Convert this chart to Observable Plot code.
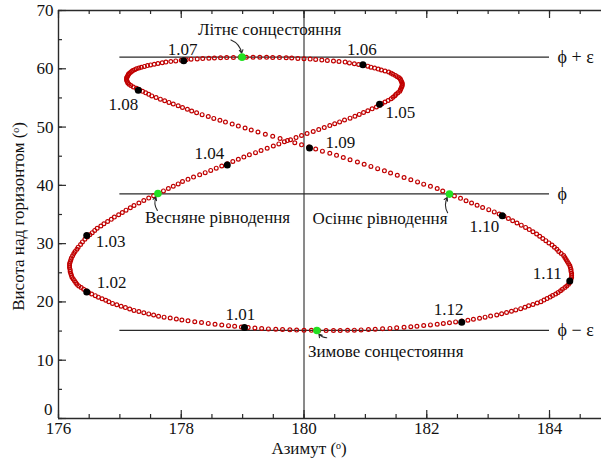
<!DOCTYPE html>
<html lang="uk">
<head>
<meta charset="utf-8">
<script src="https://cdn.jsdelivr.net/npm/d3@7"></script>
<script src="https://cdn.jsdelivr.net/npm/@observablehq/plot@0.6"></script>
<style>
html,body{margin:0;padding:0;background:#fff;}
#chart svg{display:block;}
#chart svg text{font-family:"Liberation Serif","DejaVu Serif",serif !important;}
</style>
</head>
<body>
<div id="chart"></div>
<script>
// Daily noon positions of the Sun, one inner list per month (Jan..Dec)
const azimuth = [
  [179.20,179.09,178.98,178.87,178.77,178.66,178.55,178.44,178.33,178.22,178.11,178.01,177.92,177.82,177.72,177.63,177.55,177.47,177.39,177.31,177.23,177.16,177.09,177.02,176.95,176.88,176.82,176.77,176.71,176.65,176.60],
  [176.54,176.49,176.45,176.41,176.37,176.33,176.30,176.28,176.26,176.24,176.22,176.21,176.20,176.19,176.19,176.18,176.18,176.18,176.19,176.20,176.21,176.23,176.25,176.27,176.30,176.32,176.36,176.39],
  [176.43,176.47,176.51,176.55,176.59,176.63,176.69,176.74,176.80,176.86,176.91,176.98,177.04,177.10,177.17,177.23,177.31,177.39,177.47,177.55,177.63,177.71,177.79,177.87,177.95,178.02,178.11,178.20,178.30,178.39,178.48],
  [178.57,178.66,178.75,178.84,178.93,179.02,179.11,179.21,179.30,179.40,179.50,179.59,179.68,179.78,179.87,179.96,180.05,180.15,180.24,180.33,180.42,180.50,180.58,180.66,180.75,180.83,180.90,180.97,181.04,181.11],
  [181.18,181.23,181.27,181.32,181.37,181.42,181.45,181.48,181.50,181.53,181.56,181.57,181.58,181.59,181.60,181.60,181.60,181.59,181.58,181.57,181.55,181.52,181.49,181.45,181.42,181.38,181.32,181.26,181.21,181.15,181.09],
  [181.04,180.96,180.89,180.82,180.74,180.67,180.57,180.48,180.38,180.29,180.19,180.10,180.00,179.90,179.80,179.71,179.60,179.49,179.39,179.28,179.17,179.06,178.96,178.85,178.74,178.64,178.54,178.45,178.35,178.26],
  [178.16,178.08,178.00,177.91,177.83,177.75,177.69,177.62,177.56,177.50,177.45,177.40,177.35,177.31,177.27,177.24,177.21,177.19,177.17,177.15,177.14,177.13,177.12,177.11,177.11,177.11,177.12,177.13,177.15,177.18,177.22],
  [177.27,177.32,177.37,177.42,177.47,177.52,177.59,177.66,177.73,177.80,177.87,177.95,178.02,178.10,178.17,178.25,178.34,178.44,178.53,178.63,178.72,178.83,178.93,179.04,179.14,179.25,179.37,179.49,179.61,179.73,179.85],
  [179.96,180.08,180.19,180.30,180.42,180.53,180.64,180.75,180.87,180.98,181.09,181.20,181.31,181.41,181.52,181.63,181.74,181.85,181.95,182.06,182.17,182.26,182.36,182.45,182.55,182.64,182.73,182.82,182.91,183.01],
  [183.10,183.18,183.26,183.33,183.40,183.47,183.54,183.61,183.67,183.73,183.79,183.84,183.89,183.94,183.99,184.04,184.08,184.12,184.15,184.19,184.23,184.25,184.27,184.29,184.31,184.33,184.34,184.35,184.35,184.36,184.36],
  [184.36,184.35,184.34,184.33,184.31,184.28,184.25,184.21,184.18,184.14,184.10,184.05,184.01,183.96,183.91,183.86,183.80,183.73,183.66,183.60,183.53,183.45,183.38,183.30,183.22,183.14,183.04,182.95,182.86,182.76],
  [182.67,182.57,182.47,182.37,182.27,182.17,182.06,181.95,181.84,181.74,181.63,181.51,181.40,181.28,181.16,181.05,180.93,180.82,180.71,180.59,180.48,180.36,180.24,180.12,180.00,179.88,179.77,179.65,179.54,179.42,179.31]
];
const altitude = [
  [15.52,15.61,15.71,15.82,15.93,16.05,16.18,16.32,16.46,16.60,16.75,16.91,17.07,17.23,17.39,17.55,17.75,17.95,18.15,18.35,18.55,18.79,19.03,19.27,19.51,19.75,20.02,20.28,20.55,20.82,21.08],
  [21.35,21.63,21.91,22.19,22.47,22.75,23.05,23.35,23.65,23.95,24.25,24.57,24.89,25.21,25.53,25.85,26.19,26.53,26.87,27.21,27.55,27.92,28.29,28.66,29.03,29.40,29.85,30.30],
  [30.75,31.13,31.51,31.89,32.27,32.65,33.03,33.41,33.79,34.17,34.55,34.95,35.35,35.75,36.15,36.55,36.97,37.39,37.81,38.23,38.65,39.05,39.45,39.85,40.25,40.65,41.03,41.42,41.80,42.18,42.57],
  [42.95,43.33,43.71,44.09,44.47,44.85,45.23,45.61,45.99,46.37,46.75,47.11,47.47,47.83,48.19,48.55,48.89,49.23,49.57,49.91,50.25,50.57,50.89,51.21,51.53,51.85,52.17,52.49,52.81,53.13],
  [53.45,53.73,54.01,54.29,54.57,54.85,55.11,55.37,55.63,55.89,56.15,56.39,56.63,56.87,57.11,57.35,57.57,57.79,58.01,58.23,58.45,58.65,58.85,59.05,59.25,59.45,59.62,59.78,59.95,60.12,60.28],
  [60.45,60.59,60.73,60.87,61.01,61.15,61.24,61.33,61.42,61.51,61.60,61.66,61.72,61.78,61.84,61.90,61.92,61.94,61.96,61.98,61.99,61.98,61.96,61.94,61.92,61.90,61.85,61.80,61.75,61.70],
  [61.65,61.55,61.45,61.35,61.25,61.15,61.03,60.91,60.79,60.67,60.55,60.41,60.27,60.13,59.99,59.85,59.69,59.53,59.37,59.21,59.05,58.85,58.65,58.45,58.25,58.05,57.82,57.58,57.35,57.12,56.88],
  [56.65,56.39,56.13,55.87,55.61,55.35,55.07,54.79,54.51,54.23,53.95,53.65,53.35,53.05,52.75,52.45,52.13,51.81,51.49,51.17,50.85,50.51,50.17,49.83,49.49,49.15,48.78,48.42,48.05,47.68,47.32],
  [46.95,46.59,46.23,45.87,45.51,45.15,44.77,44.39,44.01,43.63,43.25,42.87,42.49,42.11,41.73,41.35,40.97,40.59,40.21,39.83,39.45,39.03,38.61,38.19,37.77,37.35,36.97,36.59,36.21,35.83],
  [35.45,35.07,34.69,34.31,33.93,33.55,33.17,32.79,32.41,32.03,31.65,31.27,30.89,30.51,30.13,29.75,29.39,29.03,28.67,28.31,27.95,27.61,27.27,26.93,26.59,26.25,25.92,25.58,25.25,24.92,24.58],
  [24.25,23.95,23.65,23.35,23.05,22.75,22.47,22.19,21.91,21.63,21.35,21.09,20.83,20.57,20.31,20.05,19.81,19.57,19.33,19.09,18.85,18.63,18.41,18.19,17.97,17.75,17.57,17.39,17.21,17.03],
  [16.85,16.71,16.57,16.44,16.31,16.18,16.06,15.95,15.84,15.74,15.65,15.55,15.46,15.38,15.31,15.25,15.20,15.16,15.13,15.11,15.10,15.10,15.11,15.12,15.14,15.17,15.21,15.26,15.31,15.37,15.44]
];

// First day of each month (black dots)
const monthLabels = ["1.01","1.02","1.03","1.04","1.05","1.06","1.07","1.08","1.09","1.10","1.11","1.12"];
const monthAz  = [179.03,176.46,176.46,178.75,181.23,180.96,178.04,177.30,180.09,183.23,184.33,182.57];
const monthAlt = [15.6,21.7,31.4,43.5,53.9,60.7,61.4,56.3,46.4,34.8,23.6,16.5];

// Equinoxes and solstices (green dots)
const eventNames = ["Весняне рівнодення","Літнє сонцестояння","Осіннє рівнодення","Зимове сонцестояння"];
const eventAz  = [177.62,178.99,182.37,180.21];
const eventAlt = [38.6,62.0,38.5,15.1];
const arrowFromAz  = [177.61,178.81,182.34,180.37];
const arrowFromAlt = [35.7,64.95,35.3,13.85];

// Reference lines
const phi = 38.55, eps = 23.44;
const refNames  = ["ϕ + ε","ϕ","ϕ − ε"];
const refValues = [phi + eps, phi, phi - eps];

// Axes
const xTicks = [176,178,180,182,184];
const yTicks = [0,10,20,30,40,50,60,70];
const xTitle = "Азимут (ᵒ)";
const yTitle = "Висота над горизонтом (ᵒ)";

// ---------- layout / styles ----------
const FONT = "Liberation Serif";
const INK = "#2a2a2a";
const monthLayout = [
  {dx:-4, dy:-13, a:"middle"}, {dx:10, dy:-9, a:"start"}, {dx:9, dy:6, a:"start"},
  {dx:-3, dy:-11, a:"end"}, {dx:6, dy:8, a:"start"}, {dx:-1, dy:-15, a:"middle"},
  {dx:-1, dy:-11, a:"middle"}, {dx:0, dy:14, a:"end"}, {dx:16, dy:-6, a:"start"},
  {dx:-3, dy:11, a:"end"}, {dx:-8, dy:-7, a:"end"}, {dx:-13, dy:-13, a:"middle"}
];
const eventLayout = [
  {dx:-13, dy:24, a:"start"}, {dx:-44, dy:-28, a:"start"},
  {dx:-2, dy:24, a:"end"}, {dx:-9, dy:21, a:"start"}
];

const days = azimuth.flatMap((m, mi) => m.map((a, di) => ({az: a, alt: altitude[mi][di]})));
const months = monthLabels.map((t, i) => ({t, az: monthAz[i], alt: monthAlt[i]}));
const events = eventNames.map((t, i) => ({t, az: eventAz[i], alt: eventAlt[i], x1: arrowFromAz[i], y1: arrowFromAlt[i]}));
const refs = refNames.map((t, i) => ({t, v: refValues[i]}));

const xMinor = d3.range(176, 184.6, 0.5);
const yMinor = d3.range(0, 70.1, 5);
const T = {fontFamily: FONT, fill: "#111"};

const chart = Plot.plot({
  width: 601,
  height: 462,
  marginLeft: 58,
  marginRight: 0,
  marginTop: 10,
  marginBottom: 44,
  x: {domain: [176, 184.847]},
  y: {domain: [0, 70]},
  style: {fontFamily: FONT, fontSize: "16px", color: INK, background: "white", overflow: "visible"},
  marks: [
    Plot.ruleX([180], {stroke: INK, strokeWidth: 1.1}),
    Plot.ruleY(refs, {y: "v", x1: 177, x2: 184, stroke: INK, strokeWidth: 1.3}),
    Plot.dot(days, {x: "az", y: "alt", r: 1.9, stroke: "#c00000", strokeWidth: 1.2, fill: "none"}),
    Plot.arrow(events, {x1: "x1", y1: "y1", x2: "az", y2: "alt", bend: 35, headLength: 5, insetEnd: 4, stroke: INK, strokeWidth: 1.1}),
    Plot.dot(events, {x: "az", y: "alt", r: 3.8, fill: "#22e022"}),
    Plot.dot(months, {x: "az", y: "alt", r: 3.5, fill: "#000"}),
    ...months.map((d, i) => Plot.text([d], {x: "az", y: "alt", text: "t", dx: monthLayout[i].dx, dy: monthLayout[i].dy, textAnchor: monthLayout[i].a, fontSize: 17, ...T})),
    ...events.map((d, i) => Plot.text([d], {x: "az", y: "alt", text: "t", dx: eventLayout[i].dx, dy: eventLayout[i].dy, textAnchor: eventLayout[i].a, fontSize: 17, ...T})),
    Plot.text(refs, {x: 184, y: "v", text: "t", dx: 8, textAnchor: "start", fontSize: 18, ...T}),
    // frame lines
    Plot.ruleY([0], {stroke: INK, strokeWidth: 1.4}),
    Plot.ruleY([70], {stroke: INK, strokeWidth: 1.4}),
    Plot.ruleX([176], {stroke: INK, strokeWidth: 1.4}),
    // inward ticks
    Plot.ruleX(xMinor, {y1: 0, y2: 0, insetBottom: 4, stroke: INK, strokeWidth: 1.2}),
    Plot.ruleX(xTicks, {y1: 0, y2: 0, insetBottom: 8, stroke: INK, strokeWidth: 1.2}),
    Plot.ruleX(xMinor, {y1: 70, y2: 70, insetBottom: -4, stroke: INK, strokeWidth: 1.2}),
    Plot.ruleX(xTicks, {y1: 70, y2: 70, insetBottom: -8, stroke: INK, strokeWidth: 1.2}),
    Plot.ruleY(yMinor, {x1: 176, x2: 176, insetRight: -4, stroke: INK, strokeWidth: 1.2}),
    Plot.ruleY(yTicks, {x1: 176, x2: 176, insetRight: -8, stroke: INK, strokeWidth: 1.2}),
    Plot.axisX({ticks: xTicks, tickSize: 0, tickPadding: 3, label: null, fontSize: 17, tickFormat: d => String(d), ...T}),
    Plot.axisY({ticks: yTicks.filter(v => v > 0), tickSize: 0, tickPadding: 5, label: null, fontSize: 17, tickFormat: d => String(d), ...T}),
    Plot.text([yTicks[0]], {x: 176, y: d => d, text: d => String(d), textAnchor: "end", dx: -6, dy: -9, fontSize: 17, ...T}),
    Plot.text([xTitle], {x: 180, frameAnchor: "bottom", textAnchor: "middle", lineAnchor: "middle", dx: 5, dy: 30, fontSize: 17, ...T}),
    Plot.text([yTitle], {frameAnchor: "left", rotate: -90, textAnchor: "middle", lineAnchor: "middle", dx: -40, dy: 2, fontSize: 17, ...T})
  ]
});
document.getElementById("chart").append(chart);
</script>
</body>
</html>
